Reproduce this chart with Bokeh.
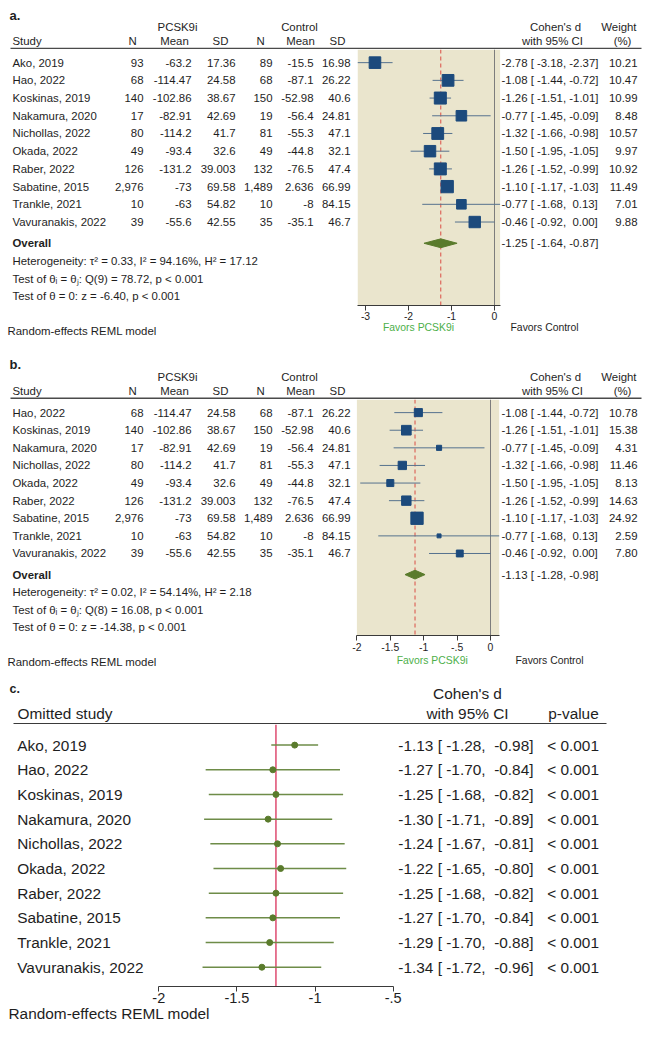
import math
from bokeh.plotting import figure
from bokeh.models import (Range1d, LinearAxis, FixedTicker, Span, BoxAnnotation,
                          ColumnDataSource, CustomJSTickFormatter)
from bokeh.layouts import column
from bokeh.embed import file_html
from bokeh.resources import INLINE
from bokeh.core.properties import value

# ---------------------------------------------------------------- data
studies = ["Ako, 2019", "Hao, 2022", "Koskinas, 2019", "Nakamura, 2020", "Nichollas, 2022",
           "Okada, 2022", "Raber, 2022", "Sabatine, 2015", "Trankle, 2021", "Vavuranakis, 2022"]
n_pcsk9i = [93, 68, 140, 17, 80, 49, 126, 2976, 10, 39]
mean_pcsk9i = [-63.2, -114.47, -102.86, -82.91, -114.2, -93.4, -131.2, -73, -63, -55.6]
sd_pcsk9i = [17.36, 24.58, 38.67, 42.69, 41.7, 32.6, 39.003, 69.58, 54.82, 42.55]
n_control = [89, 68, 150, 19, 81, 49, 132, 1489, 10, 35]
mean_control = [-15.5, -87.1, -52.98, -56.4, -55.3, -44.8, -76.5, 2.636, -8, -35.1]
sd_control = [16.98, 26.22, 40.6, 24.81, 47.1, 32.1, 47.4, 66.99, 84.15, 46.7]
cohen_d = [-2.78, -1.08, -1.26, -0.77, -1.32, -1.50, -1.26, -1.10, -0.77, -0.46]
ci_low = [-3.18, -1.44, -1.51, -1.45, -1.66, -1.95, -1.52, -1.17, -1.68, -0.92]
ci_high = [-2.37, -0.72, -1.01, -0.09, -0.98, -1.05, -0.99, -1.03, 0.13, 0.00]

weight_a = [10.21, 10.47, 10.99, 8.48, 10.57, 9.97, 10.92, 11.49, 7.01, 9.88]
overall_a = (-1.25, -1.64, -0.87)
summary_a = ["Heterogeneity: \u03c4\u00b2 = 0.33, I\u00b2 = 94.16%, H\u00b2 = 17.12",
             "Test of \u03b8\u1d62 = \u03b8\u2c7c: Q(9) = 78.72, p < 0.001",
             "Test of \u03b8 = 0: z = -6.40, p < 0.001"]
ticks_a = [-3, -2, -1, 0]
shade_a = (-3.18, 0.13)

# panel b: Ako, 2019 removed
weight_b = [10.78, 15.38, 4.31, 11.46, 8.13, 14.63, 24.92, 2.59, 7.80]
overall_b = (-1.13, -1.28, -0.98)
summary_b = ["Heterogeneity: \u03c4\u00b2 = 0.02, I\u00b2 = 54.14%, H\u00b2 = 2.18",
             "Test of \u03b8\u1d62 = \u03b8\u2c7c: Q(8) = 16.08, p < 0.001",
             "Test of \u03b8 = 0: z = -14.38, p < 0.001"]
ticks_b = [-2, -1.5, -1, -0.5, 0]
shade_b = (-2.0, 0.13)

# panel c: leave-one-out
omit_d = [-1.13, -1.27, -1.25, -1.30, -1.24, -1.22, -1.25, -1.27, -1.29, -1.34]
omit_low = [-1.28, -1.70, -1.68, -1.71, -1.67, -1.65, -1.68, -1.70, -1.70, -1.72]
omit_high = [-0.98, -0.84, -0.82, -0.89, -0.81, -0.80, -0.82, -0.84, -0.88, -0.96]
omit_p = ["< 0.001"] * 10
overall_c = -1.25
ticks_c = [-2, -1.5, -1, -0.5]

# ---------------------------------------------------------------- style
FONT = "Liberation Sans"
TXT = "#1e1e1e"
BEIGE = "#EAE5CD"
NAVY = "#1c4a7c"
CI_BLUE = "#56728e"
GREEN = "#5a7b2c"
FAV_GREEN = "#4daf4a"
RED_DASH = "#dc5a50"
RED_LINE = "#d9305a"
FS = 11.4      # table font, panels a/b
FSC = 15.4     # font, panel c
PAGE_L, PAGE_R = 0, 642
W = PAGE_R - PAGE_L


def nb(s):
    return s.replace("  ", " \u00a0")


def ci_text(e, l, h, hw):
    return nb(f"{e:.2f} [{l:6.2f}, {h:{hw}.2f}]")


def new_fig(height, x_range, y_range):
    p = figure(width=W, height=height, x_range=x_range, y_range=y_range,
               x_axis_type=None, y_axis_type=None, toolbar_location=None,
               output_backend="svg", min_border=0, outline_line_color=None)
    p.grid.visible = False
    return p


def txt(p, xs, ys, texts, size, align="left", color=TXT, bold=False, xr="default"):
    src = ColumnDataSource(dict(x=list(xs), y=list(ys), t=list(texts)))
    p.text(x="x", y="y", text="t", source=src, text_font=value(FONT),
           text_font_size=f"{size}px", text_align=align, text_baseline="middle",
           text_color=color, text_font_style="bold" if bold else "normal",
           x_range_name=xr)


def px_fig(top, bottom):
    return new_fig(bottom - top, Range1d(PAGE_L, PAGE_R), Range1d(bottom, top))


def body_fig(top, bottom, frame_bottom, first_y, step, zero_px, k):
    p = new_fig(bottom - top,
                Range1d((PAGE_L - zero_px) / k, (PAGE_R - zero_px) / k),
                Range1d((frame_bottom - first_y) / step, (top - first_y) / step))
    p.extra_x_ranges = {"px": Range1d(PAGE_L, PAGE_R)}
    return p


def add_axis(p, ticks, bounds, size, standoff):
    ax = LinearAxis(ticker=FixedTicker(ticks=ticks), bounds=bounds,
                    formatter=CustomJSTickFormatter(
                        code="return tick.toString().replace(/^(-?)0\\./, '$1.');"),
                    major_tick_out=5, major_tick_in=0, minor_tick_out=0, minor_tick_in=0,
                    major_label_standoff=standoff,
                    major_label_text_font=FONT, major_label_text_font_size=f"{size}px",
                    major_label_text_color=TXT, axis_line_color="#3a3a3a",
                    major_tick_line_color="#3a3a3a", minor_tick_line_color=None)
    p.add_layout(ax, "below")


def table_header(p, label, y_lab, y1, y2, y_line):
    txt(p, [9], [y_lab], [label], 13, bold=True)
    txt(p, [177, 299, 555], [y1] * 3, ["PCSK9i", "Control", "Cohen's d"], FS, "center")
    txt(p, [636], [y1], ["Weight"], FS, "right")
    txt(p, [12], [y2], ["Study"], FS)
    txt(p, [132, 174, 220, 260, 300, 337, 552, 622], [y2] * 8,
        ["N", "Mean", "SD", "N", "Mean", "SD", "with 95% CI", "(%)"], FS, "center")
    p.line([10, 641], [y_line, y_line], line_color="#4a4a4a", line_width=1.4)


def forest_body(p, idx, weights, overall, summary, shade, ticks, tick_size, standoff):
    n = len(idx)
    rows = list(range(n))
    p.add_layout(BoxAnnotation(left=shade[0], right=shade[1], fill_color=BEIGE, fill_alpha=1,
                               line_color=None, level="underlay"))
    p.add_layout(Span(location=0, dimension="height", line_color="#7d7d7d", line_width=1,
                      level="underlay"))
    p.add_layout(Span(location=overall[0], dimension="height", line_color=RED_DASH,
                      line_width=1.1, line_dash="4 3", level="underlay"))
    d = [cohen_d[i] for i in idx]
    lo = [ci_low[i] for i in idx]
    hi = [ci_high[i] for i in idx]
    wmax = max(weights)
    sizes = [12.3 * math.sqrt(w / wmax) for w in weights]
    src = ColumnDataSource(dict(d=d, lo=lo, hi=hi, y=rows, s=sizes))
    p.segment(x0="lo", x1="hi", y0="y", y1="y", source=src, line_color=CI_BLUE, line_width=1)
    p.scatter(x="d", y="y", size="s", marker="square", source=src,
              fill_color=NAVY, line_color=NAVY)
    r = n + 0.2
    h = 0.25
    e, ol, oh = overall
    p.patch([ol, e, oh, e], [r, r - h, r, r + h], fill_color=GREEN, line_color=GREEN)
    txt(p, [12] * n, rows, [studies[i] for i in idx], FS, xr="px")
    cols = [(143, [f"{n_pcsk9i[i]:,}" for i in idx]),
            (191, [f"{mean_pcsk9i[i]:g}" for i in idx]),
            (235, [f"{sd_pcsk9i[i]:g}" for i in idx]),
            (272, [f"{n_control[i]:,}" for i in idx]),
            (313, [f"{mean_control[i]:g}" for i in idx]),
            (350, [f"{sd_control[i]:g}" for i in idx]),
            (637, [f"{w:.2f}" for w in weights])]
    for x, vals in cols:
        txt(p, [x] * n, rows, vals, FS, "right", xr="px")
    txt(p, [501] * n, rows, [ci_text(d[j], lo[j], hi[j], 5) for j in range(n)], FS, xr="px")
    txt(p, [501], [r], [ci_text(e, ol, oh, 5)], FS, xr="px")
    txt(p, [12], [r], ["Overall"], FS, bold=True, xr="px")
    txt(p, [12] * 3, [r + 1, r + 2, r + 3], summary, FS, xr="px")
    add_axis(p, ticks, shade, tick_size, standoff)


figs = []

# ---------------------------------------------------------------- panel a
ha = px_fig(0, 49)
table_header(ha, "a.", 15, 26, 40, 48)
figs.append(ha)

ba = body_fig(49, 322, 302, 62, 17.5, 494, 43.0)
forest_body(ba, list(range(10)), weight_a, overall_a, summary_a, shade_a, ticks_a, 10.4, 1)
figs.append(ba)

fa = px_fig(322, 340)
txt(fa, [418], [327], ["Favors PCSK9i"], 10.4, "center", color=FAV_GREEN)
txt(fa, [510], [327], ["Favors Control"], 10.4)
txt(fa, [7], [330], ["Random-effects REML model"], FS)
figs.append(fa)

# ---------------------------------------------------------------- panel b
hb = px_fig(340, 399)
table_header(hb, "b.", 364, 376, 390, 397.7)
figs.append(hb)

bb = body_fig(399, 653, 633, 412, 17.46, 490, 66.8)
forest_body(bb, list(range(1, 10)), weight_b, overall_b, summary_b, shade_b, ticks_b, 10.4, 2)
figs.append(bb)

fb = px_fig(653, 680)
txt(fb, [431.7], [660], ["Favors PCSK9i"], 10.4, "center", color=FAV_GREEN)
txt(fb, [515], [660], ["Favors Control"], 10.4)
txt(fb, [7], [661], ["Random-effects REML model"], FS)
figs.append(fb)

# ---------------------------------------------------------------- panel c
hc = px_fig(680, 724)
txt(hc, [9], [688], ["c."], 12.5, bold=True)
txt(hc, [467], [693], ["Cohen's d"], FSC, "center")
txt(hc, [17], [713], ["Omitted study"], FSC)
txt(hc, [467, 573], [713, 713], ["with 95% CI", "p-value"], FSC, "center")
hc.line([13, 606], [723.3, 723.3], line_color="#3a3a3a", line_width=1.5)
figs.append(hc)

bc = body_fig(724, 1005, 982, 744.3, 24.3, 470.7, 156.2)
bc.add_layout(Span(location=overall_c, dimension="height", line_color=RED_LINE,
                   line_width=1.3, level="underlay"))
nc = len(studies)
rows_c = list(range(nc))
src_c = ColumnDataSource(dict(d=omit_d, lo=omit_low, hi=omit_high, y=rows_c))
bc.segment(x0="lo", x1="hi", y0="y", y1="y", source=src_c, line_color="#6e8c48", line_width=1.5)
bc.scatter(x="d", y="y", size=6, source=src_c, fill_color=GREEN, line_color=GREEN)
txt(bc, [16.7] * nc, rows_c, studies, FSC, xr="px")
txt(bc, [533] * nc, rows_c, [ci_text(omit_d[i], omit_low[i], omit_high[i], 6) for i in rows_c],
    FSC, "right", xr="px")
txt(bc, [546.7] * nc, rows_c, omit_p, FSC, xr="px")
add_axis(bc, ticks_c, (min(ticks_c), max(ticks_c)), 14.5, 1)
figs.append(bc)

fc = px_fig(1005, 1021)
txt(fc, [8], [1013], ["Random-effects REML model"], FSC)
figs.append(fc)

layout = column(*figs, spacing=0)
open("out.html", "w").write(file_html(layout, INLINE))
